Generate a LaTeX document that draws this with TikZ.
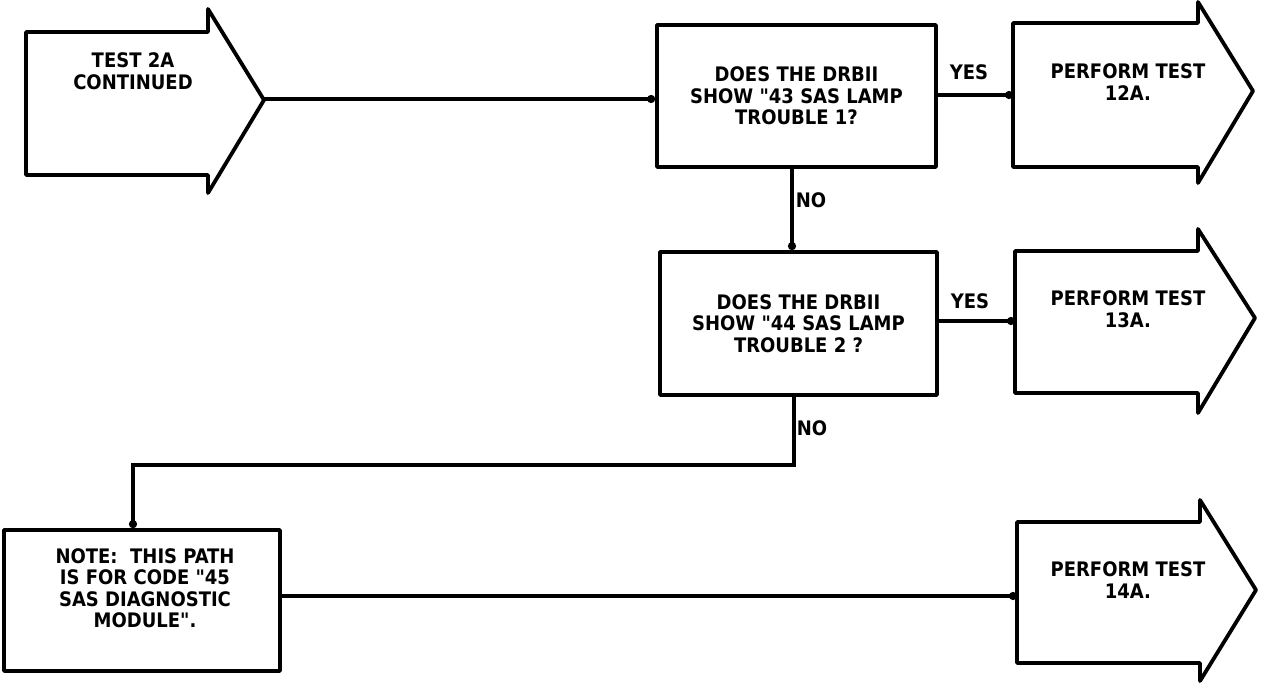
\documentclass[tikz,border=0pt]{standalone}
\usepackage{fontspec}
\setmainfont{DejaVu Sans Condensed}[Ligatures=TeXOff]
\usetikzlibrary{arrows.meta}
\tikzset{
  shp/.style={draw=black, line width=3.8pt, line join=round, fill=white},
  boxq/.style={shp, rectangle, inner sep=0pt, align=center},
  txt/.style={align=center, font=\fontsize{20}{21.5}\selectfont\bfseries, inner sep=0pt},
  conn/.style={draw=black, line width=3.2pt, -{Circle[length=8pt]}},
  lbl/.style={font=\fontsize{20}{21.5}\selectfont\bfseries, inner sep=0pt}
}
\begin{document}
\begin{tikzpicture}[x=1pt,y=-1pt]
\useasboundingbox (0,0) rectangle (1264,684);
% start arrow
\draw[shp] (26,32) -- (208,32) -- (208,9) -- (264,100) -- (208,193) -- (208,175) -- (26,175) -- cycle;
\coordinate (a1tip) at (264,99);
\node[txt] (a1t) at (133,71) {TEST 2A\\CONTINUED};
% question boxes
\node[boxq, minimum width=279pt, minimum height=142pt, txt] (q1) at (796.5,96) {DOES THE DRBII\\SHOW "43 SAS LAMP\\TROUBLE 1?};
\node[boxq, minimum width=277pt, minimum height=143pt, txt] (q2) at (798.5,323.5) {DOES THE DRBII\\SHOW "44 SAS LAMP\\TROUBLE 2 ?};
% note box
\node[boxq, minimum width=276pt, minimum height=141pt] (note) at (142,600.5) {};
\node[txt] (notet) at (145,588) {NOTE:\ \ THIS PATH\\IS FOR CODE "45\\SAS DIAGNOSTIC\\MODULE".};
% result arrows
\draw[shp] (1013,23) -- (1198,23) -- (1198,2) -- (1253,91) -- (1198,183) -- (1198,167) -- (1013,167) -- cycle;
\coordinate (a2in) at (1013,95);
\node[txt] (a2t) at (1128,82) {PERFORM TEST\\12A.};
\draw[shp] (1015,251) -- (1198,251) -- (1198,229) -- (1255,318) -- (1198,413) -- (1198,393) -- (1015,393) -- cycle;
\coordinate (a3in) at (1015,321);
\node[txt] (a3t) at (1128,309) {PERFORM TEST\\13A.};
\draw[shp] (1017,522) -- (1200,522) -- (1200,500) -- (1256,590) -- (1200,681) -- (1200,663) -- (1017,663) -- cycle;
\coordinate (a4in) at (1017,596);
\node[txt] (a4t) at (1128,580) {PERFORM TEST\\14A.};
% junctions
\coordinate (j1) at (794,465);
\coordinate (j2) at (133,465);
% connectors
\draw[conn] (a1tip) -- (a1tip -| q1.west);
\draw[conn] (q1.east |- a2in) -- (a2in);
\draw[conn] (q2.east |- a3in) -- (a3in);
\draw[conn] ([xshift=-4.5pt]q1.south) -- ([xshift=-4.5pt]q1.south |- q2.north);
\draw[conn] (q2.south -| j1) -- (j1) -- (j2) -- (j2 |- note.north);
\draw[conn] (note.east |- a4in) -- (a4in);
% labels
\node[lbl] (y1) at (969,72) {YES};
\node[lbl] (y2) at (970,301) {YES};
\node[lbl] (n1) at (811,200) {NO};
\node[lbl] (n2) at (812,428) {NO};
\end{tikzpicture}
\end{document}
